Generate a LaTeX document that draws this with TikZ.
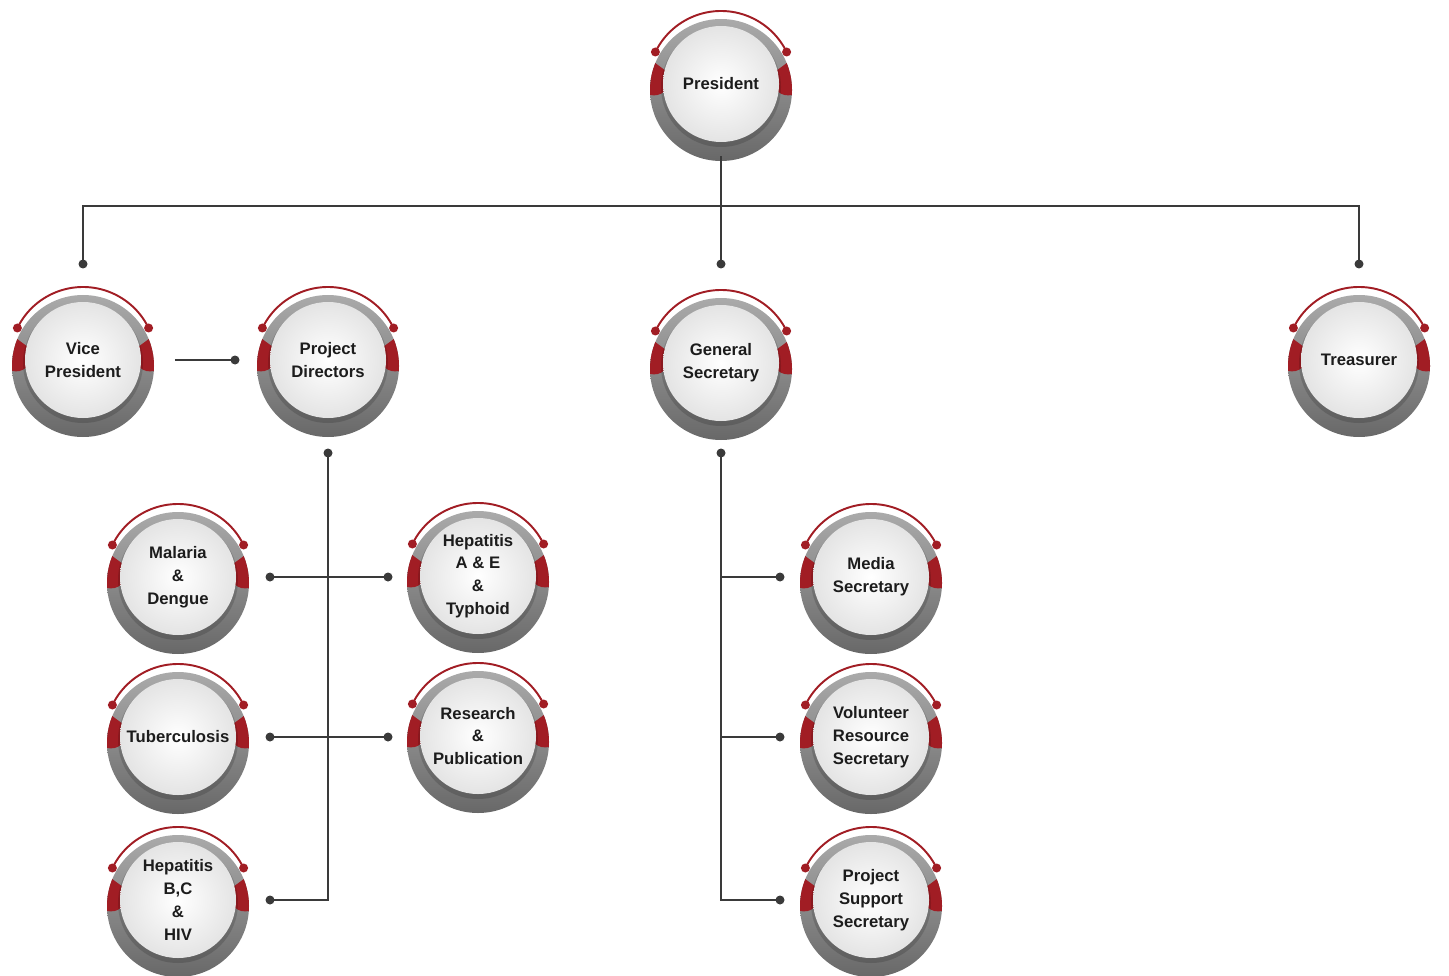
\documentclass[tikz,border=0pt]{standalone}
\usepackage{fontspec}
\setmainfont{Liberation Sans}

\definecolor{wiregray}{HTML}{3A3A3A}
\definecolor{badgered}{HTML}{A11D24}
\definecolor{ringtop}{HTML}{AAAAAA}
\definecolor{ringbot}{HTML}{686868}
\definecolor{facegray}{HTML}{E4E4E4}
\definecolor{textgray}{HTML}{1C1C1C}

\tikzset{
  wire/.style={draw=wiregray, line width=1pt},
  member/.style={circle, minimum size=2.32cm, inner sep=0pt, outer sep=0.28cm,
    align=center, text=textgray, font=\bfseries\fontsize{9.5}{13}\selectfont},
}

% one round badge: name, centre, text
\newcommand{\badge}[3]{%
  \begin{scope}[shift={(#2)}, y=0.02cm]
    \shade[top color=ringtop, bottom color=ringbot] (0,-6) circle (71);
    \begin{scope}
      \clip (0,-6) circle (71);
      \fill[badgered] (-78,30) -- (-55,13) -- (-55,-2) .. controls (-55,-12) and (-70,-14) .. (-78,-8) -- cycle;
      \fill[badgered] (78,30) -- (55,13) -- (55,-2) .. controls (55,-12) and (70,-14) .. (78,-8) -- cycle;
    \end{scope}
    \fill[black, opacity=0.15] (0,-3) circle (60);
    \shade[inner color=white, outer color=facegray] (0,0) circle (58);
    \draw[badgered, line width=1.1pt] (154:73) arc[start angle=154, end angle=26, radius=73];
    \fill[badgered] (154:73) circle (4.5);
    \fill[badgered] (26:73) circle (4.5);
    \node[member] (#1) at (0,0) {#3};
  \end{scope}}

\begin{document}
\begin{tikzpicture}[x=0.02cm, y=-0.02cm]
\useasboundingbox (0,0) rectangle (1449,976);

\badge{pres}{721,84}{President}
\badge{vp}{83,360}{Vice\\President}
\badge{pd}{328,360}{Project\\Directors}
\badge{gs}{721,363}{General\\Secretary}
\badge{tr}{1359,360}{Treasurer}
\badge{mal}{178,577}{Malaria\\\&\\Dengue}
\badge{hae}{478,576}{Hepatitis\\A \& E\\\&\\Typhoid}
\badge{tub}{178,737}{Tuberculosis}
\badge{res}{478,736}{Research\\\&\\Publication}
\badge{hbc}{178,900}{Hepatitis\\B,C\\\&\\HIV}
\badge{med}{871,577}{Media\\Secretary}
\badge{vol}{871,737}{Volunteer\\Resource\\Secretary}
\badge{pss}{871,900}{Project\\Support\\Secretary}

\coordinate (bus) at (721,206);
\coordinate (vp-in) at (83,264);
\coordinate (gs-in) at (721,264);
\coordinate (tr-in) at (1359,264);
\coordinate (pd-in) at (235,360);
\coordinate (pd-out) at (328,453);
\coordinate (mal-in) at (270,577);
\coordinate (hae-in) at (388,577);
\coordinate (tub-in) at (270,737);
\coordinate (res-in) at (388,737);
\coordinate (hbc-in) at (270,900);
\coordinate (gs-out) at (721,453);
\coordinate (med-in) at (780,577);
\coordinate (vol-in) at (780,737);
\coordinate (pss-in) at (780,900);

\draw[wire] (pres.south) -- (gs-in);
\draw[wire] (vp-in) -- (vp-in |- bus) -- (tr-in |- bus) -- (tr-in);
\draw[wire, shorten <=0.4cm] (vp.east) -- (pd-in);
\draw[wire] (pd-out) |- (hbc-in);
\draw[wire] (mal-in) -- (hae-in);
\draw[wire] (tub-in) -- (res-in);
\draw[wire] (gs-out) |- (pss-in);
\draw[wire] (gs-out |- med-in) -- (med-in);
\draw[wire] (gs-out |- vol-in) -- (vol-in);
\foreach \d in {vp-in,gs-in,tr-in,pd-in,pd-out,mal-in,hae-in,tub-in,res-in,hbc-in,gs-out,med-in,vol-in,pss-in}
  \fill[wiregray] (\d) circle (4.5);

\end{tikzpicture}
\end{document}
